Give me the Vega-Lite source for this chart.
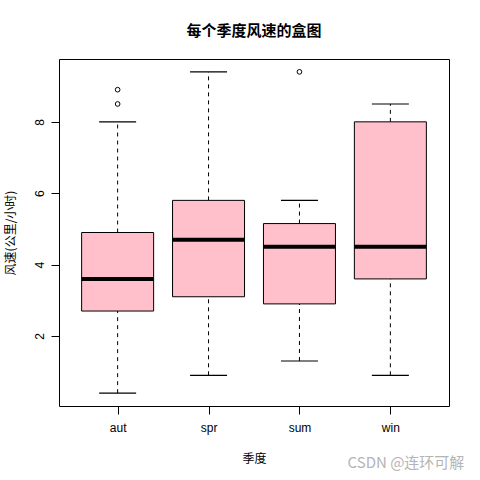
{
  "$schema": "https://vega.github.io/schema/vega-lite/v6.json",
  "width": 390,
  "height": 347,
  "autosize": {"type": "none"},
  "padding": {"left": 59, "top": 59, "right": 31, "bottom": 74},
  "background": "white",
  "view": {"stroke": "black", "strokeWidth": 1},
  "title": {
    "text": "每个季度风速的盒图",
    "font": "Noto Sans CJK SC",
    "fontSize": 15,
    "fontWeight": "bold",
    "color": "black",
    "anchor": "middle",
    "offset": 20
  },
  "config": {
    "font": "Liberation Sans",
    "axis": {
      "grid": false,
      "domain": false,
      "tickColor": "black",
      "tickSize": 8,
      "labelColor": "black",
      "labelFontSize": 12,
      "labelFont": "Liberation Sans",
      "titleColor": "black",
      "titleFontSize": 12,
      "titleFont": "Noto Sans CJK SC",
      "titleFontWeight": "normal"
    }
  },
  "datasets": {
    "boxes": [
      {"season": "aut", "lo": 0.4, "q1": 2.7, "med": 3.6, "q3": 4.9, "hi": 8.0},
      {"season": "spr", "lo": 0.9, "q1": 3.1, "med": 4.7, "q3": 5.8, "hi": 9.4},
      {"season": "sum", "lo": 1.3, "q1": 2.9, "med": 4.5, "q3": 5.15, "hi": 5.8},
      {"season": "win", "lo": 0.9, "q1": 3.6, "med": 4.5, "q3": 8.0, "hi": 8.5}
    ],
    "outliers": [
      {"season": "aut", "speed": 8.5},
      {"season": "aut", "speed": 8.9},
      {"season": "sum", "speed": 9.4}
    ],
    "mark": [
      {"season": "win", "speed": -1.55, "label": "CSDN @连环可解"}
    ]
  },
  "encoding": {
    "x": {
      "field": "season",
      "type": "nominal",
      "scale": {"type": "point", "padding": 0.645, "domain": ["aut", "spr", "sum", "win"]},
      "axis": {"title": "季度", "labelAngle": 0, "labelPadding": 8, "titlePadding": 20}
    }
  },
  "layer": [
    {
      "data": {"name": "boxes"},
      "mark": {"type": "rule", "color": "black", "strokeWidth": 1, "strokeDash": [4, 4]},
      "encoding": {
        "y": {
          "field": "lo",
          "type": "quantitative",
          "scale": {"domain": [0.04, 9.76], "nice": false, "zero": false},
          "axis": {"title": "风速(公里/小时)", "values": [2, 4, 6, 8], "labelAngle": -90, "labelAlign": "center", "labelBaseline": "bottom", "labelPadding": 5, "titlePadding": 16}
        },
        "y2": {"field": "q1"}
      }
    },
    {
      "data": {"name": "boxes"},
      "mark": {"type": "rule", "color": "black", "strokeWidth": 1, "strokeDash": [4, 4]},
      "encoding": {
        "y": {"field": "q3", "type": "quantitative"},
        "y2": {"field": "hi"}
      }
    },
    {
      "data": {"name": "boxes"},
      "mark": {"type": "tick", "color": "black", "size": 37, "thickness": 1.2, "opacity": 1},
      "encoding": {"y": {"field": "lo", "type": "quantitative"}}
    },
    {
      "data": {"name": "boxes"},
      "mark": {"type": "tick", "color": "black", "size": 37, "thickness": 1.2, "opacity": 1},
      "encoding": {"y": {"field": "hi", "type": "quantitative"}}
    },
    {
      "data": {"name": "boxes"},
      "mark": {"type": "bar", "fill": "#FFC0CB", "stroke": "black", "strokeWidth": 1, "size": 72, "opacity": 1},
      "encoding": {
        "y": {"field": "q1", "type": "quantitative"},
        "y2": {"field": "q3"}
      }
    },
    {
      "data": {"name": "boxes"},
      "mark": {"type": "tick", "color": "black", "size": 72, "thickness": 4, "opacity": 1},
      "encoding": {"y": {"field": "med", "type": "quantitative"}}
    },
    {
      "data": {"name": "outliers"},
      "mark": {"type": "point", "shape": "circle", "filled": false, "stroke": "black", "strokeWidth": 1, "size": 22, "opacity": 1},
      "encoding": {"y": {"field": "speed", "type": "quantitative"}}
    },
    {
      "data": {"name": "mark"},
      "mark": {"type": "text", "align": "right", "baseline": "middle", "dx": 74, "font": "Noto Sans CJK SC", "fontSize": 15, "color": "#b4b4b4", "clip": false},
      "encoding": {
        "y": {"field": "speed", "type": "quantitative"},
        "text": {"field": "label"}
      }
    }
  ]
}
